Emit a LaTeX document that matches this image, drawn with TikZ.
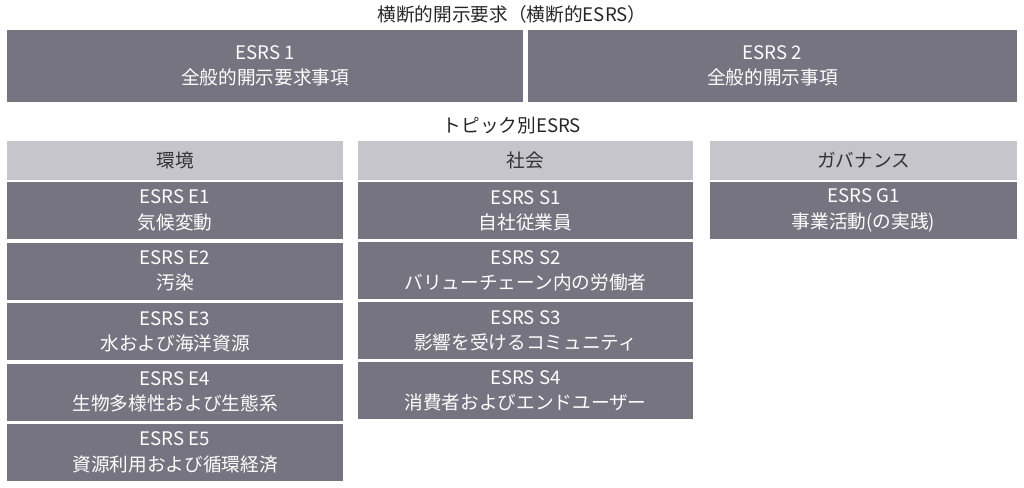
\documentclass[tikz,border=0pt]{standalone}
\usepackage{fontspec}
\setmainfont{Noto Sans CJK JP}
\usetikzlibrary{positioning}
\definecolor{boxdark}{HTML}{767480}
\definecolor{boxlight}{HTML}{C6C5CC}
\tikzset{
    darkbox/.style={
        rectangle, 
        fill=boxdark, 
        text=white, 
        align=center, 
        inner sep=0pt,
        font=\fontsize{14}{19}\selectfont
    },
    headbox/.style={
        rectangle, 
        fill=boxlight, 
        text=black!80, 
        inner sep=0pt,
        font=\fontsize{14}{17}\selectfont
    },
    caption/.style={text=black!85, font=\fontsize{14}{17}\selectfont}
}
\begin{document}
\begin{tikzpicture}[x=0.75pt, y=-0.75pt]
\useasboundingbox (0,0) rectangle (1024,487);

% Cross-cutting
\node (crosstitle) [caption] at (512,14) {横断的開示要求（横断的ESRS）};
\node (esrs1) [darkbox, minimum width=516*0.75pt, minimum height=72*0.75pt] at (265,66) {ESRS 1\\全般的開示要求事項};
\node (esrs2) [darkbox, minimum width=489*0.75pt, minimum height=72*0.75pt] at (772.5,66) {ESRS 2\\全般的開示事項};

% Topical
\node (topictitle) [caption] at (512,126) {トピック別ESRS};
\node (envhead) [headbox, minimum width=336*0.75pt, minimum height=39*0.75pt] at (175,160.5) {環境};
\node (sochead) [headbox, minimum width=335*0.75pt, minimum height=39*0.75pt] at (525.5,160.5) {社会};
\node (govhead) [headbox, minimum width=307*0.75pt, minimum height=39*0.75pt] at (863.5,160.5) {ガバナンス};

\foreach \code/\name [count=\i] in {E1/気候変動, E2/汚染, E3/水および海洋資源, E4/生物多様性および生態系, E5/資源利用および循環経済}
    \node (env\i) [darkbox, minimum width=336*0.75pt, minimum height=57*0.75pt] at (175,{210.5+60.5*(\i-1)}) {ESRS \code\\\name};
\foreach \code/\name [count=\i] in {S1/自社従業員, S2/バリューチェーン内の労働者, S3/影響を受けるコミュニティ, S4/消費者およびエンドユーザー}
    \node (soc\i) [darkbox, minimum width=335*0.75pt, minimum height=57*0.75pt] at (525.5,{210.5+60*(\i-1)}) {ESRS \code\\\name};
\node (gov1) [darkbox, minimum width=307*0.75pt, minimum height=57*0.75pt] at (863.5,210.5) {ESRS G1\\事業活動(の実践)};

\end{tikzpicture}
\end{document}
